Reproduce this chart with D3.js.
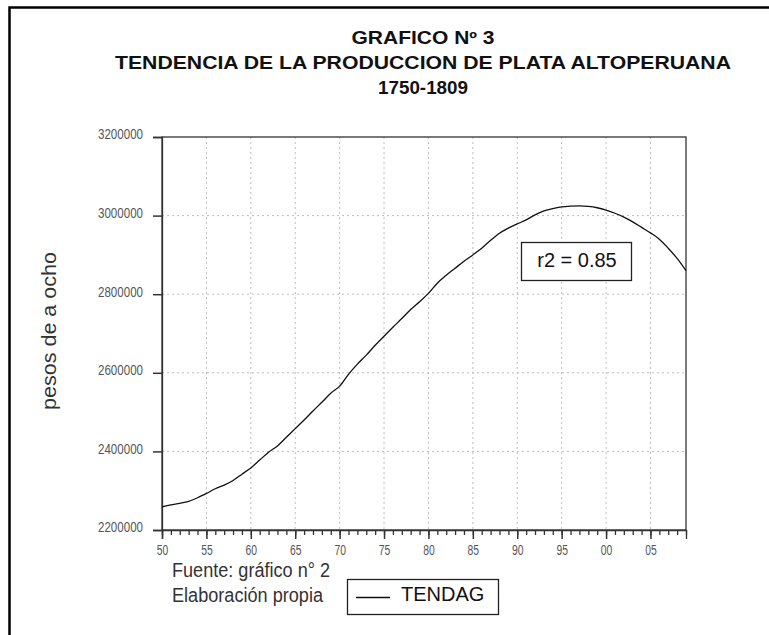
<!DOCTYPE html>
<meta charset="utf-8">
<style>
  body { margin: 0; background: #fff; }
  .title { font-family: 'Liberation Sans', Arial, sans-serif; font-weight: bold; font-size: 18px; fill: #111; }
  .tick text { font-family: 'Liberation Sans', Arial, sans-serif; font-size: 15px; fill: #555; }
  .note { font-family: 'Liberation Sans', Arial, sans-serif; font-size: 20px; fill: #333; }
</style>
<script src="https://d3js.org/d3.v7.min.js"></script>
<div id="my_dataviz"></div>
<script>

// data
var years = [1750, 1751, 1752, 1753, 1754, 1755, 1756, 1757, 1758, 1759,
             1760, 1761, 1762, 1763, 1764, 1765, 1766, 1767, 1768, 1769,
             1770, 1771, 1772, 1773, 1774, 1775, 1776, 1777, 1778, 1779,
             1780, 1781, 1782, 1783, 1784, 1785, 1786, 1787, 1788, 1789,
             1790, 1791, 1792, 1793, 1794, 1795, 1796, 1797, 1798, 1799,
             1800, 1801, 1802, 1803, 1804, 1805, 1806, 1807, 1808, 1809];
var tendag = [2259000, 2264000, 2268000, 2273000, 2282000, 2293000, 2305000, 2314000, 2326000, 2342000,
              2358000, 2378000, 2398000, 2414000, 2436000, 2458000, 2480000, 2503000, 2525000, 2548000,
              2566000, 2596000, 2622000, 2645000, 2670000, 2693000, 2716000, 2738000, 2761000, 2781000,
              2802000, 2828000, 2848000, 2866000, 2884000, 2900000, 2917000, 2937000, 2955000, 2968000,
              2979000, 2989000, 3002000, 3012000, 3018000, 3022000, 3024000, 3025000, 3023500, 3020000,
              3014000, 3006000, 2996000, 2984000, 2970000, 2956000, 2940000, 2917000, 2891000, 2860000];
var xTicks = [1750, 1755, 1760, 1765, 1770, 1775, 1780, 1785, 1790, 1795, 1800, 1805];
var xMinor = d3.range(1750, 1810);
var yTicks = [2200000, 2400000, 2600000, 2800000, 3000000, 3200000];
var titleLines = ["GRAFICO Nº 3", "TENDENCIA DE LA PRODUCCION DE PLATA ALTOPERUANA", "1750-1809"];

var W = 769, H = 635;
var margin = {top: 137, right: 83, bottom: 105, left: 162},
    width = W - margin.left - margin.right,
    height = H - margin.top - margin.bottom;

var root = d3.select("#my_dataviz")
  .append("svg")
    .attr("width", W)
    .attr("height", H);

// outer frame (only left and top edges are in view)
root.append("rect")
  .attr("x", 9.5).attr("y", 7.5)
  .attr("width", 800).attr("height", 700)
  .attr("fill", "none")
  .attr("stroke", "#000")
  .attr("stroke-width", 2.5);

// title
var titleWidths = [143, 616, 90];
root.selectAll(".title")
  .data(titleLines)
  .enter()
  .append("text")
    .attr("class", "title")
    .attr("x", 423)
    .attr("y", function (d, i) { return [43.5, 68.5, 94][i]; })
    .attr("text-anchor", "middle")
    .attr("textLength", function (d, i) { return titleWidths[i]; })
    .attr("lengthAdjust", "spacingAndGlyphs")
    .text(function (d) { return d; });

var svg = root.append("g")
  .attr("transform", "translate(" + margin.left + "," + margin.top + ")");

var x = d3.scaleLinear()
  .domain([1750, 1809])
  .range([0, width]);

var y = d3.scaleLinear()
  .domain([2200000, 3200000])
  .range([height, 0]);

// dotted grid
svg.append("g")
  .selectAll("line")
  .data(xTicks.slice(1))
  .enter()
  .append("line")
    .attr("x1", function (d) { return x(d); })
    .attr("x2", function (d) { return x(d); })
    .attr("y1", 0).attr("y2", height)
    .attr("stroke", "#bdbdbd")
    .attr("stroke-dasharray", "2,3");

svg.append("g")
  .selectAll("line")
  .data(yTicks.slice(1, -1))
  .enter()
  .append("line")
    .attr("y1", function (d) { return y(d); })
    .attr("y2", function (d) { return y(d); })
    .attr("x1", 0).attr("x2", width)
    .attr("stroke", "#bdbdbd")
    .attr("stroke-dasharray", "2,3");

// plot frame
svg.append("rect")
  .attr("width", width).attr("height", height)
  .attr("fill", "none")
  .attr("stroke", "#333")
  .attr("stroke-width", 1.3);

// X axis: minor ticks every year, labelled every 5
svg.append("g")
  .attr("transform", "translate(0," + height + ")")
  .call(d3.axisBottom(x).tickValues(xMinor).tickSize(5).tickFormat(""))
  .call(function (g) { g.select(".domain").remove(); })
  .selectAll("line").attr("stroke", "#333").attr("stroke-width", 1.3);

var xAxis = svg.append("g")
  .attr("transform", "translate(0," + height + ")")
  .call(d3.axisBottom(x).tickValues(xTicks).tickSize(9)
    .tickFormat(function (d) { return d3.format("02d")(d % 100); }));
xAxis.select(".domain").attr("stroke", "#333").attr("stroke-width", 1.3);
xAxis.selectAll("line").attr("stroke", "#333").attr("stroke-width", 1.5);
xAxis.selectAll("text")
  .attr("y", 25).attr("dy", 0)
  .attr("textLength", 11.5)
  .attr("lengthAdjust", "spacingAndGlyphs");

// Y axis
var yAxis = svg.append("g")
  .call(d3.axisLeft(y).tickValues(yTicks).tickSize(9).tickFormat(d3.format("d")));
yAxis.select(".domain").attr("stroke", "#333").attr("stroke-width", 1.3);
yAxis.selectAll("line").attr("stroke", "#333").attr("stroke-width", 1.5);
yAxis.selectAll("text")
  .attr("x", -19).attr("dy", "0.13em")
  .attr("textLength", 45)
  .attr("lengthAdjust", "spacingAndGlyphs");

// trend line
var line = d3.line()
  .x(function (d, i) { return x(years[i]); })
  .y(function (d) { return y(d); })
  .curve(d3.curveMonotoneX);

svg.append("path")
  .datum(tendag)
  .attr("d", line)
  .attr("fill", "none")
  .attr("stroke", "#111")
  .attr("stroke-width", 1.3);

// r2 box
root.append("rect")
  .attr("x", 521.5).attr("y", 242.5)
  .attr("width", 110).attr("height", 38)
  .attr("fill", "#fff")
  .attr("stroke", "#222")
  .attr("stroke-width", 1.3);
root.append("text")
  .attr("class", "note")
  .attr("x", 577).attr("y", 267)
  .attr("text-anchor", "middle")
  .style("fill", "#111")
  .text("r2 = 0.85");

// y axis title
root.append("text")
  .attr("class", "note")
  .attr("transform", "translate(56,331)rotate(-90)")
  .attr("text-anchor", "middle")
  .attr("textLength", 158)
  .attr("lengthAdjust", "spacingAndGlyphs")
  .text("pesos de a ocho");

// source notes
root.append("text")
  .attr("class", "note")
  .attr("x", 172).attr("y", 577)
  .attr("textLength", 158)
  .attr("lengthAdjust", "spacingAndGlyphs")
  .text("Fuente: gráfico n° 2");

root.append("text")
  .attr("class", "note")
  .attr("x", 172).attr("y", 602)
  .attr("textLength", 151)
  .attr("lengthAdjust", "spacingAndGlyphs")
  .text("Elaboración propia");

// legend
root.append("rect")
  .attr("x", 347.5).attr("y", 579.5)
  .attr("width", 151).attr("height", 35)
  .attr("fill", "none")
  .attr("stroke", "#222")
  .attr("stroke-width", 1.3);
root.append("line")
  .attr("x1", 356).attr("x2", 390)
  .attr("y1", 597.5).attr("y2", 597.5)
  .attr("stroke", "#111")
  .attr("stroke-width", 1.3);
root.append("text")
  .attr("class", "note")
  .attr("x", 401).attr("y", 601)
  .style("fill", "#111")
  .text("TENDAG");

</script>
